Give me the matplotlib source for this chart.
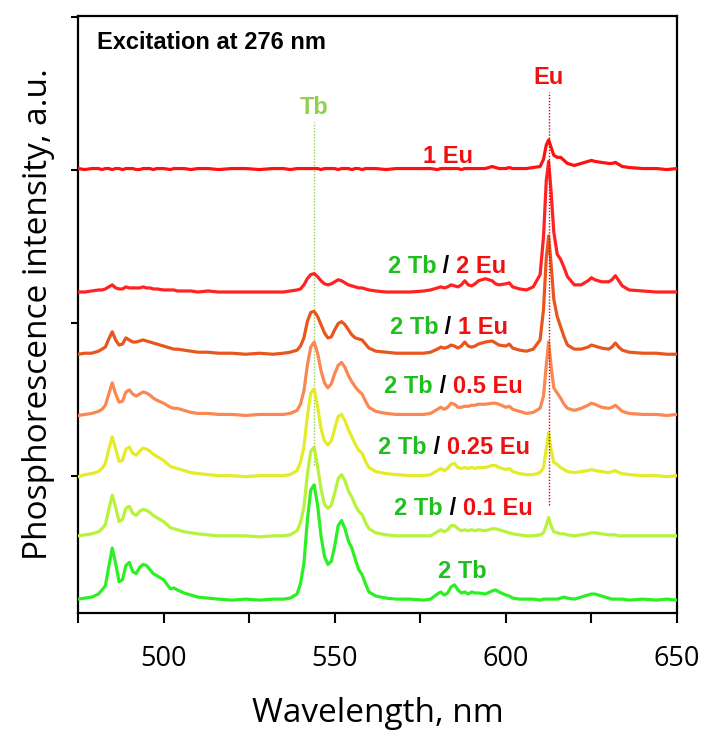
import matplotlib
matplotlib.use("Agg")
import matplotlib.pyplot as plt
import numpy as np
from matplotlib.offsetbox import TextArea, HPacker, AnnotationBbox

# ---------------- data ----------------
wavelength = [
    475, 477, 479, 481, 482, 483, 484, 485, 486, 487,
    488, 489, 490, 491, 492, 493, 494, 495, 496, 497,
    498, 500, 502, 503, 504, 506, 508, 510, 513, 516,
    520, 524, 528, 532, 535, 537, 539, 540, 541, 542,
    543, 544, 545, 546, 547, 548, 549, 550, 551, 552,
    553, 554, 555, 556, 557, 558, 559, 560, 562, 565,
    568, 572, 576, 578, 580, 581, 582, 583, 584, 585,
    586, 587, 588, 589, 590, 591, 592, 594, 596, 597,
    598, 600, 601, 602, 604, 606, 608, 610, 611, 611.8,
    612.5, 613.2, 614, 615, 616, 617, 618, 620, 622, 624,
    625, 626, 628, 630, 631, 632, 633, 634, 636, 640,
    644, 647, 650,
]

eu1 = [
    1, 0, 1, 1, 0, 1, 1, 0, 1, 1,
    0, 1, 1, 1, 0, 0, 1, 1, 1, 0,
    1, 1, 0, 1, 1, 1, 0, 1, 1, 0,
    1, 1, 0, 1, 1, 0, 1, 1, 1, 1,
    1, 1, 1, 0, 1, 1, 1, 1, 0, 1,
    1, 1, 0, 1, 1, 0, 1, 1, 1, 0,
    1, 1, 1, 1, 0, 1, 1, 1, 1, 1,
    1, 0, 1, 1, 1, 1, 1, 1, 3, 2,
    1, 1, 2, 1, 1, 1, 2, 3, 10, 24,
    29, 22, 14, 12, 12, 9, 6, 4, 6, 8,
    9, 8, 7, 6, 6, 7, 5, 3, 2, 1,
    1, 0, 1,
]

tb2_eu2 = [
    1, 1, 2, 3, 3, 4, 6, 8, 5, 4,
    4, 6, 5, 5, 5, 5, 6, 5, 5, 4,
    4, 3, 3, 3, 2, 2, 2, 1, 2, 1,
    1, 1, 1, 1, 1, 2, 3, 4, 8, 14,
    18, 19, 16, 12, 9, 8, 9, 11, 13, 12,
    10, 8, 7, 6, 5, 5, 4, 3, 2, 1,
    1, 1, 2, 3, 5, 6, 5, 6, 8, 7,
    6, 8, 12, 8, 7, 9, 12, 14, 12, 9,
    8, 9, 10, 6, 4, 3, 6, 18, 55, 110,
    129, 100, 60, 38, 33, 25, 16, 8, 8, 12,
    15, 13, 11, 11, 13, 17, 12, 7, 3, 2,
    1, 1, 1,
]

tb2_eu1 = [
    1, 2, 2, 4, 6, 8, 16, 23, 15, 10,
    11, 17, 15, 13, 13, 14, 15, 14, 13, 12,
    11, 9, 7, 6, 6, 5, 4, 3, 3, 2,
    2, 1, 2, 1, 2, 3, 5, 9, 17, 33,
    42, 43, 38, 30, 22, 17, 18, 25, 31, 33,
    30, 25, 20, 17, 16, 15, 11, 7, 4, 3,
    2, 2, 2, 3, 6, 8, 7, 8, 10, 9,
    7, 9, 13, 9, 8, 9, 11, 13, 14, 12,
    10, 9, 11, 7, 5, 4, 6, 15, 45, 95,
    117, 90, 55, 38, 28, 18, 10, 6, 6, 8,
    10, 9, 7, 6, 8, 12, 8, 5, 3, 2,
    2, 1, 1,
]

tb2_eu05 = [
    1, 2, 3, 5, 7, 11, 22, 33, 22, 14,
    15, 24, 26, 22, 20, 22, 24, 23, 21, 18,
    16, 13, 9, 8, 8, 6, 4, 3, 3, 2,
    2, 1, 2, 2, 2, 3, 6, 12, 25, 50,
    68, 73, 62, 45, 33, 28, 32, 42, 50, 53,
    48, 40, 34, 29, 25, 22, 15, 9, 5, 3,
    2, 2, 2, 3, 7, 9, 7, 9, 13, 12,
    9, 9, 10, 10, 11, 11, 12, 12, 13, 13,
    12, 9, 10, 7, 5, 3, 4, 8, 20, 50,
    73, 50, 28, 23, 18, 12, 8, 6, 8, 11,
    13, 12, 9, 8, 9, 11, 8, 5, 3, 2,
    2, 1, 2,
]

tb2_eu025 = [
    1, 3, 4, 6, 9, 14, 28, 40, 28, 16,
    17, 28, 30, 24, 22, 26, 29, 28, 26, 23,
    21, 17, 11, 10, 9, 7, 5, 4, 3, 2,
    2, 1, 2, 2, 2, 3, 7, 15, 30, 60,
    83, 87, 70, 48, 36, 32, 36, 48, 60, 62,
    56, 47, 40, 33, 27, 24, 16, 10, 6, 4,
    3, 2, 2, 3, 7, 9, 7, 9, 13, 14,
    10, 9, 10, 9, 10, 9, 10, 10, 12, 12,
    10, 8, 9, 6, 4, 3, 3, 5, 10, 28,
    44, 28, 15, 13, 10, 8, 6, 5, 6, 7,
    8, 7, 6, 5, 6, 7, 5, 4, 3, 2,
    2, 1, 2,
]

tb2_eu01 = [
    2, 3, 4, 6, 9, 13, 28, 42, 30, 16,
    18, 29, 31, 24, 22, 26, 28, 27, 25, 22,
    20, 16, 10, 9, 8, 6, 5, 4, 3, 2,
    2, 2, 1, 2, 2, 3, 7, 15, 30, 62,
    85, 89, 70, 48, 33, 29, 32, 44, 58, 62,
    56, 46, 40, 32, 26, 23, 15, 9, 5, 3,
    2, 2, 2, 2, 6, 8, 6, 8, 12, 12,
    9, 7, 8, 7, 8, 7, 8, 7, 9, 9,
    8, 6, 5, 4, 3, 2, 2, 3, 5, 12,
    20, 12, 6, 5, 4, 4, 3, 2, 3, 4,
    5, 5, 4, 3, 3, 3, 2, 2, 2, 2,
    2, 2, 2,
]

tb2 = [
    3, 4, 5, 8, 12, 16, 35, 53, 38, 20,
    22, 36, 39, 30, 28, 34, 37, 36, 32, 28,
    26, 22, 13, 14, 12, 9, 7, 5, 4, 3,
    2, 3, 2, 3, 3, 4, 8, 18, 38, 80,
    110, 115, 95, 65, 45, 37, 40, 55, 75, 80,
    72, 60, 53, 42, 32, 27, 18, 10, 6, 4,
    3, 3, 2, 3, 8, 10, 7, 9, 15, 17,
    12, 9, 10, 8, 10, 9, 9, 8, 11, 12,
    10, 7, 6, 4, 3, 3, 3, 2, 3, 3,
    3, 3, 3, 3, 4, 5, 4, 3, 5, 7,
    8, 8, 6, 4, 3, 3, 3, 3, 2, 3,
    2, 3, 2,
]

series_data = [eu1, tb2_eu2, tb2_eu1, tb2_eu05, tb2_eu025, tb2_eu01, tb2]
offsets = [450, 329, 268, 208, 148, 89, 26]
colors = ["#ff1111", "#ff2222", "#e8561e", "#fb8753", "#e4ec2a", "#b8f23a", "#2cf023"]

tb_line_nm = 544
eu_line_nm = 612.6

# ---------------- figure ----------------
W, H = 713, 737
fig = plt.figure(figsize=(W / 100, H / 100), dpi=100)
ax = fig.add_axes([78 / W, 1 - 613 / H, (677 - 78) / W, (613 - 16) / H])

for vals, off, col in zip(series_data, offsets, colors):
    ax.plot(wavelength, np.array(vals) + off, color=col, lw=2.3, solid_joinstyle="round", zorder=3)

# marker lines
ax.plot([tb_line_nm, tb_line_nm], [160, 497], color="#92d050", lw=1.0, ls=(0, (1, 1.2)), zorder=2)
ax.plot([eu_line_nm, eu_line_nm], [121, 526], color="#e00000", lw=1.0, ls=(0, (1, 1.2)), zorder=4)

ax.set_xlim(475, 650)
ax.set_ylim(15.4, 600.5)
ax.set_xticks([475, 500, 525, 550, 575, 600, 625, 650])
ax.set_xticklabels(["", "500", "", "550", "", "600", "", "650"])
ax.set_yticks([150, 300, 450, 600])
ax.set_yticklabels([])
ax.tick_params(axis="x", direction="out", length=7, width=1.5, labelsize=19.5, pad=16)
ax.tick_params(axis="y", direction="out", length=5, width=1.5)
for lab in ax.get_xticklabels():
    lab.set_fontfamily("Open Sans")
for s in ax.spines.values():
    s.set_linewidth(1.6)

ax.set_xlabel("Wavelength, nm", fontsize=24, fontfamily="Open Sans", labelpad=17)
ax.set_ylabel("Phosphorescence intensity, a.u.", fontsize=24, fontfamily="Open Sans", labelpad=8)

green = "#1fbf1f"
red = "#ee1111"
bold = dict(fontfamily="Liberation Sans", fontweight="bold", fontsize=17)

ax.text(0.032, 0.956, "Excitation at 276 nm", transform=ax.transAxes, ha="left", va="center",
        color="black", **bold)
ax.text(tb_line_nm, 511, "Tb", ha="center", va="center", color="#92d050", **bold)
ax.text(eu_line_nm, 540, "Eu", ha="center", va="center", color=red, **bold)


def multi_label(x, y, parts):
    boxes = [TextArea(t, textprops=dict(color=c, **bold)) for t, c in parts]
    pack = HPacker(children=boxes, align="baseline", pad=0, sep=0)
    ab = AnnotationBbox(pack, (x, y), xycoords="data", frameon=False, box_alignment=(0.5, 0.5), pad=0)
    ax.add_artist(ab)


multi_label(583, 463, [("1 Eu", red)])
multi_label(582.8, 355, [("2 Tb", green), (" / ", "black"), ("2 Eu", red)])
multi_label(583.4, 295, [("2 Tb", green), (" / ", "black"), ("1 Eu", red)])
multi_label(584.6, 237, [("2 Tb", green), (" / ", "black"), ("0.5 Eu", red)])
multi_label(584.8, 178, [("2 Tb", green), (" / ", "black"), ("0.25 Eu", red)])
multi_label(587.6, 118, [("2 Tb", green), (" / ", "black"), ("0.1 Eu", red)])
multi_label(587.2, 56, [("2 Tb", green)])

fig.savefig("out.png", dpi=100)
